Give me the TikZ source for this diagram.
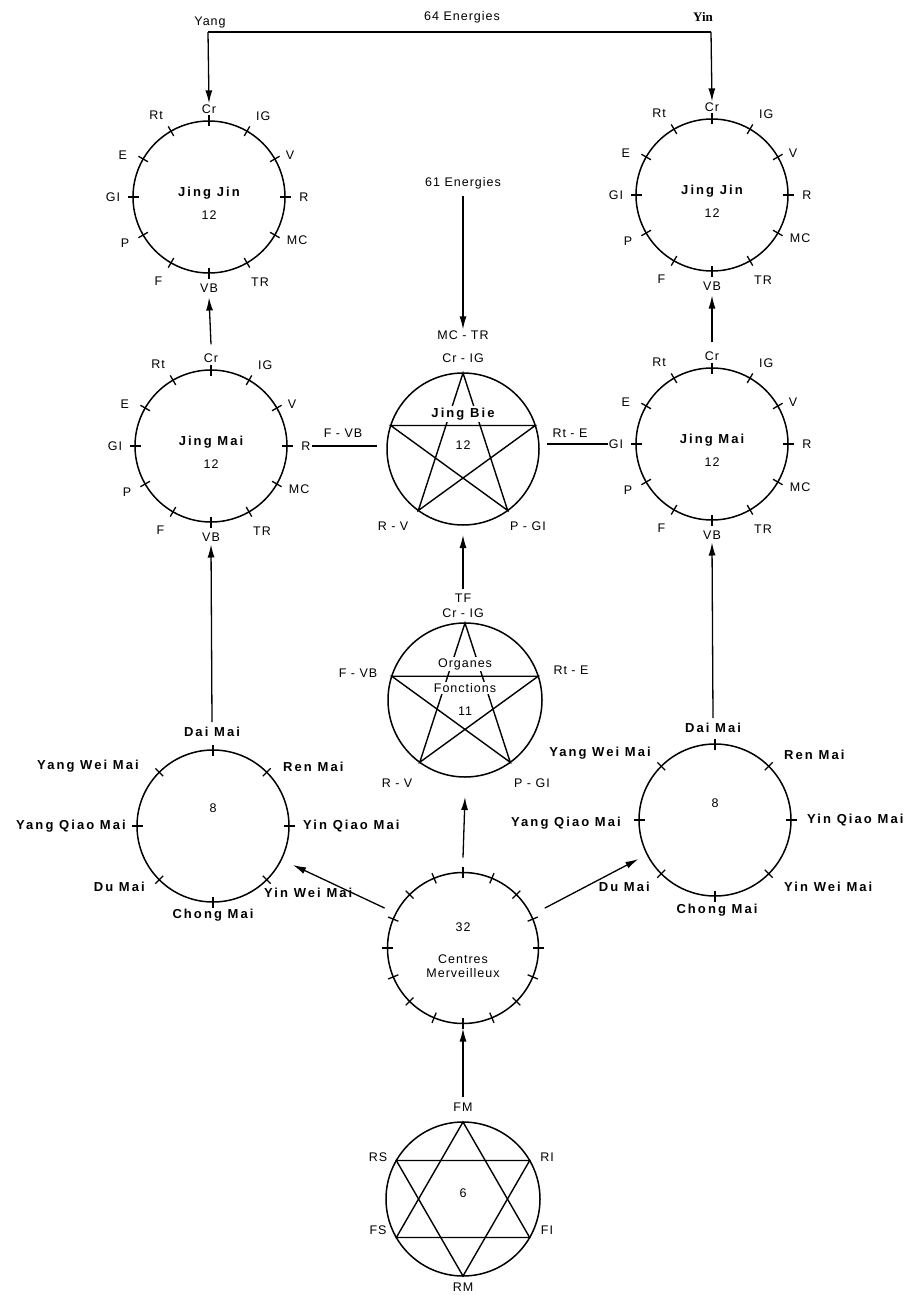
\documentclass[tikz,border=0pt]{standalone}
\usepackage{fontspec}
\setmainfont{Liberation Sans}
\newfontfamily\lab[LetterSpace=8]{Liberation Sans}
\newfontfamily\bld[LetterSpace=16]{Liberation Sans}
\newfontfamily\yinfont{Liberation Serif}
\usetikzlibrary{arrows.meta,calc}
\begin{document}
\begin{tikzpicture}[x=1pt,y=-1pt,
  ring/.style={circle,draw,line width=1.5pt,minimum size=152pt,inner sep=0pt,outer sep=0pt},
  lbl/.style={inner sep=1pt,font=\lab\fontsize{12.5}{14}\selectfont},
  big/.style={inner sep=1pt,font=\bld\bfseries\fontsize{13}{15}\selectfont},
  conn/.style={line width=1.3pt},
  arr/.style={line width=1.3pt,-{Latex[length=13pt,width=7pt]}},
  tickmark/.style={line width=1.3pt},
  starline/.style={line width=1.4pt,line join=miter}]
\useasboundingbox (0,0) rectangle (913,1295);
\fill[white] (0,0) rectangle (913,1295);

% ---------- 12-circles (Jing Jin, Jing Mai)
\foreach \n/\cx/\cy/\t in {jjL/209/197/Jing Jin, jjR/712/195/Jing Jin, jmL/211/446/Jing Mai, jmR/712/444/Jing Mai}{
  \node[ring] (\n) at (\cx,\cy) {};
  \node[big] (\n-t) at (\cx,\cy-4) {\t};
  \node[lbl] (\n-n) at (\cx,\cy+18) {12};
  \foreach \a in {0,30,...,330}
    \draw[tickmark] ($(\n)+(\a:70.5pt)$) -- ($(\n)+(\a:81.5pt)$);
  \foreach \l/\a/\r in {Cr/90/88, IG/56/97, V/27/91, R/0/95, MC/-26/98, TR/-59/99, VB/-90/91, F/-121/98, P/-151/96, GI/180/96, E/154/96, Rt/123/97}
    \node[lbl] (\n-\l) at ($(\n)+(\a:\r pt)$) {\l};
}

% ---------- top: Yang / Yin
\node[lbl] (yang) at (210,22) {Yang};
\node[inner sep=1pt,font=\yinfont\bfseries\fontsize{13}{15}\selectfont] (yin) at (703,17) {Yin};
\node[lbl] (e64) at (462,17) {64 Energies};
\coordinate (yc) at (208,32);
\coordinate (ic) at (711,32);
\draw[conn] (yc) -- (ic);
\draw[arr] (yc) -- (jjL-Cr.north);
\draw[arr] (ic) -- (jjR-Cr.north);

% ---------- Jing Bie
\node[ring] (jb) at (463,449) {};
\draw[starline] ($(jb)+(90:76pt)$) -- ($(jb)+(234:76pt)$) -- ($(jb)+(18:76pt)$) -- ($(jb)+(162:76pt)$) -- ($(jb)+(306:76pt)$) -- cycle;
\node[big,fill=white,inner sep=2pt] (jb-t) at (463,414) {Jing Bie};
\node[lbl] (jb-n) at (463,445) {12};
\node[lbl] (jb-mctr) at (463,335) {MC - TR};
\node[lbl] (jb-crig) at (463,358) {Cr - IG};
\node[lbl] (jb-fvb) at (343,433) {F - VB};
\node[lbl] (jb-rte) at (570,433) {Rt - E};
\node[lbl] (jb-rv) at (393,526) {R - V};
\node[lbl] (jb-pgi) at (528,526) {P - GI};
\node[lbl] (e61) at (463,183) {61 Energies};
\draw[arr] ($(e61.south)+(0,6)$) -- (jb-mctr.north);
\draw[conn] (jmL-R.east) -- ([xshift=-10pt]jmL-R.east -| jb.west);
\draw[conn] ([xshift=8pt]jmR-GI.west -| jb.east) -- (jmR-GI.west);

% vertical arrows Jing Mai -> Jing Jin
\draw[arr] ($(jmL-Cr.north)+(0,-8)$) -- ($(jjL-VB.south)+(0,4)$);
\draw[arr] ($(jmR-Cr.north)+(0,-8)$) -- ($(jjR-VB.south)+(0,4)$);

% ---------- Organes Fonctions
\node[ring,minimum size=154pt] (of) at (465,700) {};
\draw[starline] ($(of)+(90:77pt)$) -- ($(of)+(234:77pt)$) -- ($(of)+(18:77pt)$) -- ($(of)+(162:77pt)$) -- ($(of)+(306:77pt)$) -- cycle;
\node[lbl,fill=white,inner sep=1.5pt] (of-o) at (465,664) {Organes};
\node[lbl,fill=white,inner sep=1.5pt] (of-f) at (465,688) {Fonctions};
\draw[starline] ($(of)+(162:77pt)$) -- ($(of)+(18:77pt)$);
\node[lbl] (of-n) at (465,711) {11};
\node[lbl] (tf) at (463,598) {TF};
\node[lbl] (of-crig) at (463,613) {Cr - IG};
\node[lbl] (of-fvb) at (358,673) {F - VB};
\node[lbl] (of-rte) at (571,670) {Rt - E};
\node[lbl] (of-rv) at (397,783) {R - V};
\node[lbl] (of-pgi) at (532,783) {P - GI};
\draw[arr] ($(tf.north)+(0,-4)$) -- ($(jb.south)+(0,10)$);

% ---------- 8-circles
\node[ring] (eL) at (213,826) {};
\node[ring] (eR) at (715,820) {};
\foreach \n in {eL,eR}
  \foreach \a in {0,45,...,315}
    \draw[tickmark] ($(\n)+(\a:70.5pt)$) -- ($(\n)+(\a:81.5pt)$);
\node[lbl] (eL-n) at (213,808) {8};
\node[lbl] (eR-n) at (715,803) {8};
% left labels
\node[big] (dmL) at (212,732) {Dai Mai};
\node[big,anchor=west] (eL-ren) at (282,767) {Ren Mai};
\node[big,anchor=west] (eL-yiq) at (302,826) {Yin Qiao Mai};
\node[big,anchor=west] (eL-yiw) at (263,893) {Yin Wei Mai};
\node[big] (eL-ch) at (213,915) {Chong Mai};
\node[big,anchor=east] (eL-du) at (146,887) {Du Mai};
\node[big,anchor=east] (eL-yaq) at (127,826) {Yang Qiao Mai};
\node[big,anchor=east] (eL-yaw) at (140,766) {Yang Wei Mai};
% right labels
\node[big] (dmR) at (713,728) {Dai Mai};
\node[big,anchor=west] (eR-ren) at (783,755) {Ren Mai};
\node[big,anchor=west] (eR-yiq) at (806,820) {Yin Qiao Mai};
\node[big,anchor=west] (eR-yiw) at (783,887) {Yin Wei Mai};
\node[big] (eR-ch) at (717,910) {Chong Mai};
\node[big,anchor=east] (eR-du) at (651,887) {Du Mai};
\node[big,anchor=east] (eR-yaq) at (622,823) {Yang Qiao Mai};
\node[big,anchor=east] (eR-yaw) at (652,753) {Yang Wei Mai};
\draw[arr] ($(dmL.north)+(0,-4)$) -- ($(jmL-VB.south)+(0,2)$);
\draw[arr] ($(dmR.north)+(0,-4)$) -- ($(jmR-VB.south)+(0,2)$);

% ---------- Centres Merveilleux
\node[ring,minimum size=151pt] (ce) at (463,948) {};
\foreach \a in {0,22.5,...,337.5}
  \draw[tickmark] ($(ce)+(\a:70pt)$) -- ($(ce)+(\a:81pt)$);
\node[lbl] (ce-n) at (463,927) {32};
\node[lbl,align=center] (ce-t) at (463,966) {Centres\\Merveilleux};
\draw[arr] ($(ce.north)+(0,-15)$) -- ($(of.south)+(0,20)$);
\draw[arr] ($(ce)+(153:88pt)$) -- ($(eL)+(-26:89pt)$);
\draw[arr] ($(ce)+(26:91pt)$) -- ($(eR)+(207:86pt)$);

% ---------- hexagram
\node[ring,minimum size=154pt] (hx) at (463,1199) {};
\draw[starline] ($(hx)+(90:77pt)$) -- ($(hx)+(210:77pt)$) -- ($(hx)+(330:77pt)$) -- cycle;
\draw[starline] ($(hx)+(270:77pt)$) -- ($(hx)+(30:77pt)$) -- ($(hx)+(150:77pt)$) -- cycle;
\node[lbl] (hx-n) at (463,1193) {6};
\node[lbl] (fm) at (463,1107) {FM};
\node[lbl] (rm) at (463,1287) {RM};
\node[lbl] (rs) at (378,1157) {RS};
\node[lbl] (ri) at (547,1157) {RI};
\node[lbl] (fs) at (378,1230) {FS};
\node[lbl] (fi) at (547,1230) {FI};
\draw[arr] ($(fm.north)+(0,-5)$) -- ($(ce.south)+(0,5)$);
\end{tikzpicture}
\end{document}
